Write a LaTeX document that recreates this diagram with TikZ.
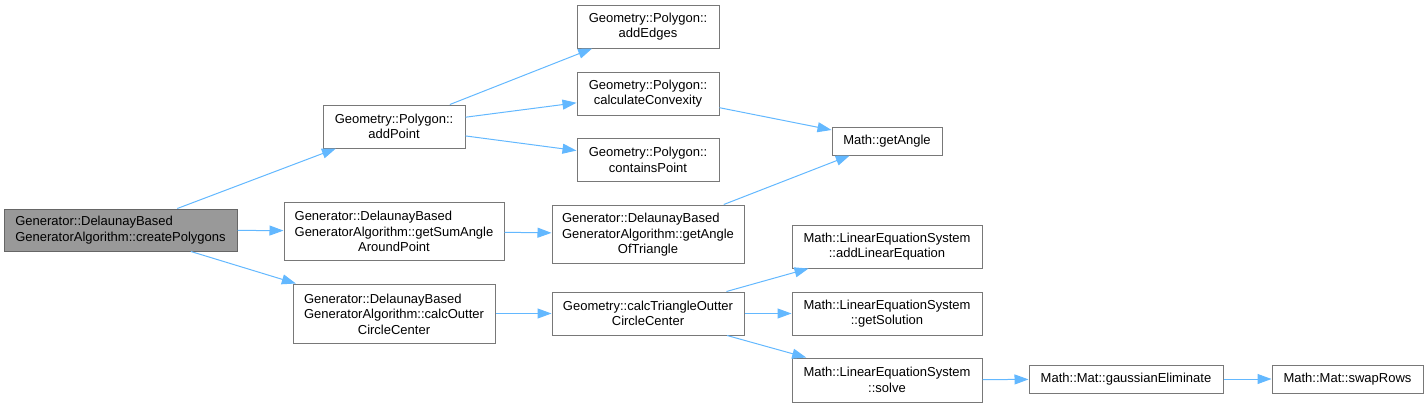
\documentclass[tikz,border=0pt]{standalone}
\usepackage{fontspec}
\setmainfont{Liberation Sans}
\usetikzlibrary{arrows.meta}

% two left-aligned lines on top of a centred one
\newcommand{\leftpair}[2]{\begin{tabular}[b]{@{}l@{}}#1\\#2\end{tabular}}

\begin{document}
\begin{tikzpicture}[x=1pt, y=-1pt,
    fn/.style={draw=boxborder, fill=white, line width=1pt, align=center, inner sep=0pt,
        font=\fontsize{13}{15.5}\selectfont},
    rootfn/.style={fn, fill=rootfill, draw=rootborder},
    call/.style={draw=callcolor, line width=1pt, -{Triangle[length=14pt, width=10pt]}}]
    % Define colors
    \definecolor{boxborder}{RGB}{120,120,120}
    \definecolor{rootborder}{RGB}{102,102,102}
    \definecolor{rootfill}{RGB}{153,153,153}
    \definecolor{callcolor}{RGB}{99,184,255}

    \useasboundingbox (0,0) rectangle (1428,407);

    % Caller
    \node[rootfn, minimum width=233pt, minimum height=42pt, align=left] (createPolygons) at (120.5,230)
        {Generator::DelaunayBased\\GeneratorAlgorithm::createPolygons};

    % First level
    \node[fn, minimum width=142pt, minimum height=43pt] (addPoint) at (394,126.5)
        {Geometry::Polygon::\\addPoint};
    \node[fn, minimum width=220pt, minimum height=58pt] (getSumAngle) at (394,231)
        {\leftpair{Generator::DelaunayBased}{GeneratorAlgorithm::getSumAngle}\\AroundPoint};
    \node[fn, minimum width=202pt, minimum height=59pt] (calcOutter) at (394,313.5)
        {\leftpair{Generator::DelaunayBased}{GeneratorAlgorithm::calcOutter}\\CircleCenter};

    % Second level
    \node[fn, minimum width=142pt, minimum height=43pt] (addEdges) at (648,26.5)
        {Geometry::Polygon::\\addEdges};
    \node[fn, minimum width=142pt, minimum height=43pt] (calcConvexity) at (648,93.5)
        {Geometry::Polygon::\\calculateConvexity};
    \node[fn, minimum width=142pt, minimum height=43pt] (containsPoint) at (648,160)
        {Geometry::Polygon::\\containsPoint};
    \node[fn, minimum width=192pt, minimum height=58pt] (getAngleOfTriangle) at (648,234)
        {\leftpair{Generator::DelaunayBased}{GeneratorAlgorithm::getAngle}\\OfTriangle};
    \node[fn, minimum width=192pt, minimum height=43pt] (calcTriangle) at (648,313.5)
        {Geometry::calcTriangleOutter\\CircleCenter};

    % Third level
    \node[fn, minimum width=110pt, minimum height=28pt] (getAngle) at (887,141)
        {Math::getAngle};
    \node[fn, minimum width=190pt, minimum height=43pt] (addLinEq) at (887,246.5)
        {Math::LinearEquationSystem\\::addLinearEquation};
    \node[fn, minimum width=190pt, minimum height=43pt] (getSolution) at (887,313.5)
        {Math::LinearEquationSystem\\::getSolution};
    \node[fn, minimum width=190pt, minimum height=44pt] (solve) at (887,380)
        {Math::LinearEquationSystem\\::solve};

    % Last levels
    \node[fn, minimum width=194pt, minimum height=28pt] (gaussian) at (1126,379)
        {Math::Mat::gaussianEliminate};
    \node[fn, minimum width=151pt, minimum height=28pt] (swapRows) at (1347.5,379)
        {Math::Mat::swapRows};

    % Calls
    \draw[call] (createPolygons) -- (addPoint);
    \draw[call] (createPolygons) -- (getSumAngle);
    \draw[call] (createPolygons) -- (calcOutter);
    \draw[call] (addPoint) -- (addEdges);
    \draw[call] (addPoint) -- (calcConvexity);
    \draw[call] (addPoint) -- (containsPoint);
    \draw[call] (calcConvexity) -- (getAngle);
    \draw[call] (getSumAngle) -- (getAngleOfTriangle);
    \draw[call] (getAngleOfTriangle) -- (getAngle);
    \draw[call] (calcOutter) -- (calcTriangle);
    \draw[call] (calcTriangle) -- (addLinEq);
    \draw[call] (calcTriangle) -- (getSolution);
    \draw[call] (calcTriangle) -- (solve);
    \draw[call] (solve) -- (gaussian);
    \draw[call] (gaussian) -- (swapRows);
\end{tikzpicture}
\end{document}
